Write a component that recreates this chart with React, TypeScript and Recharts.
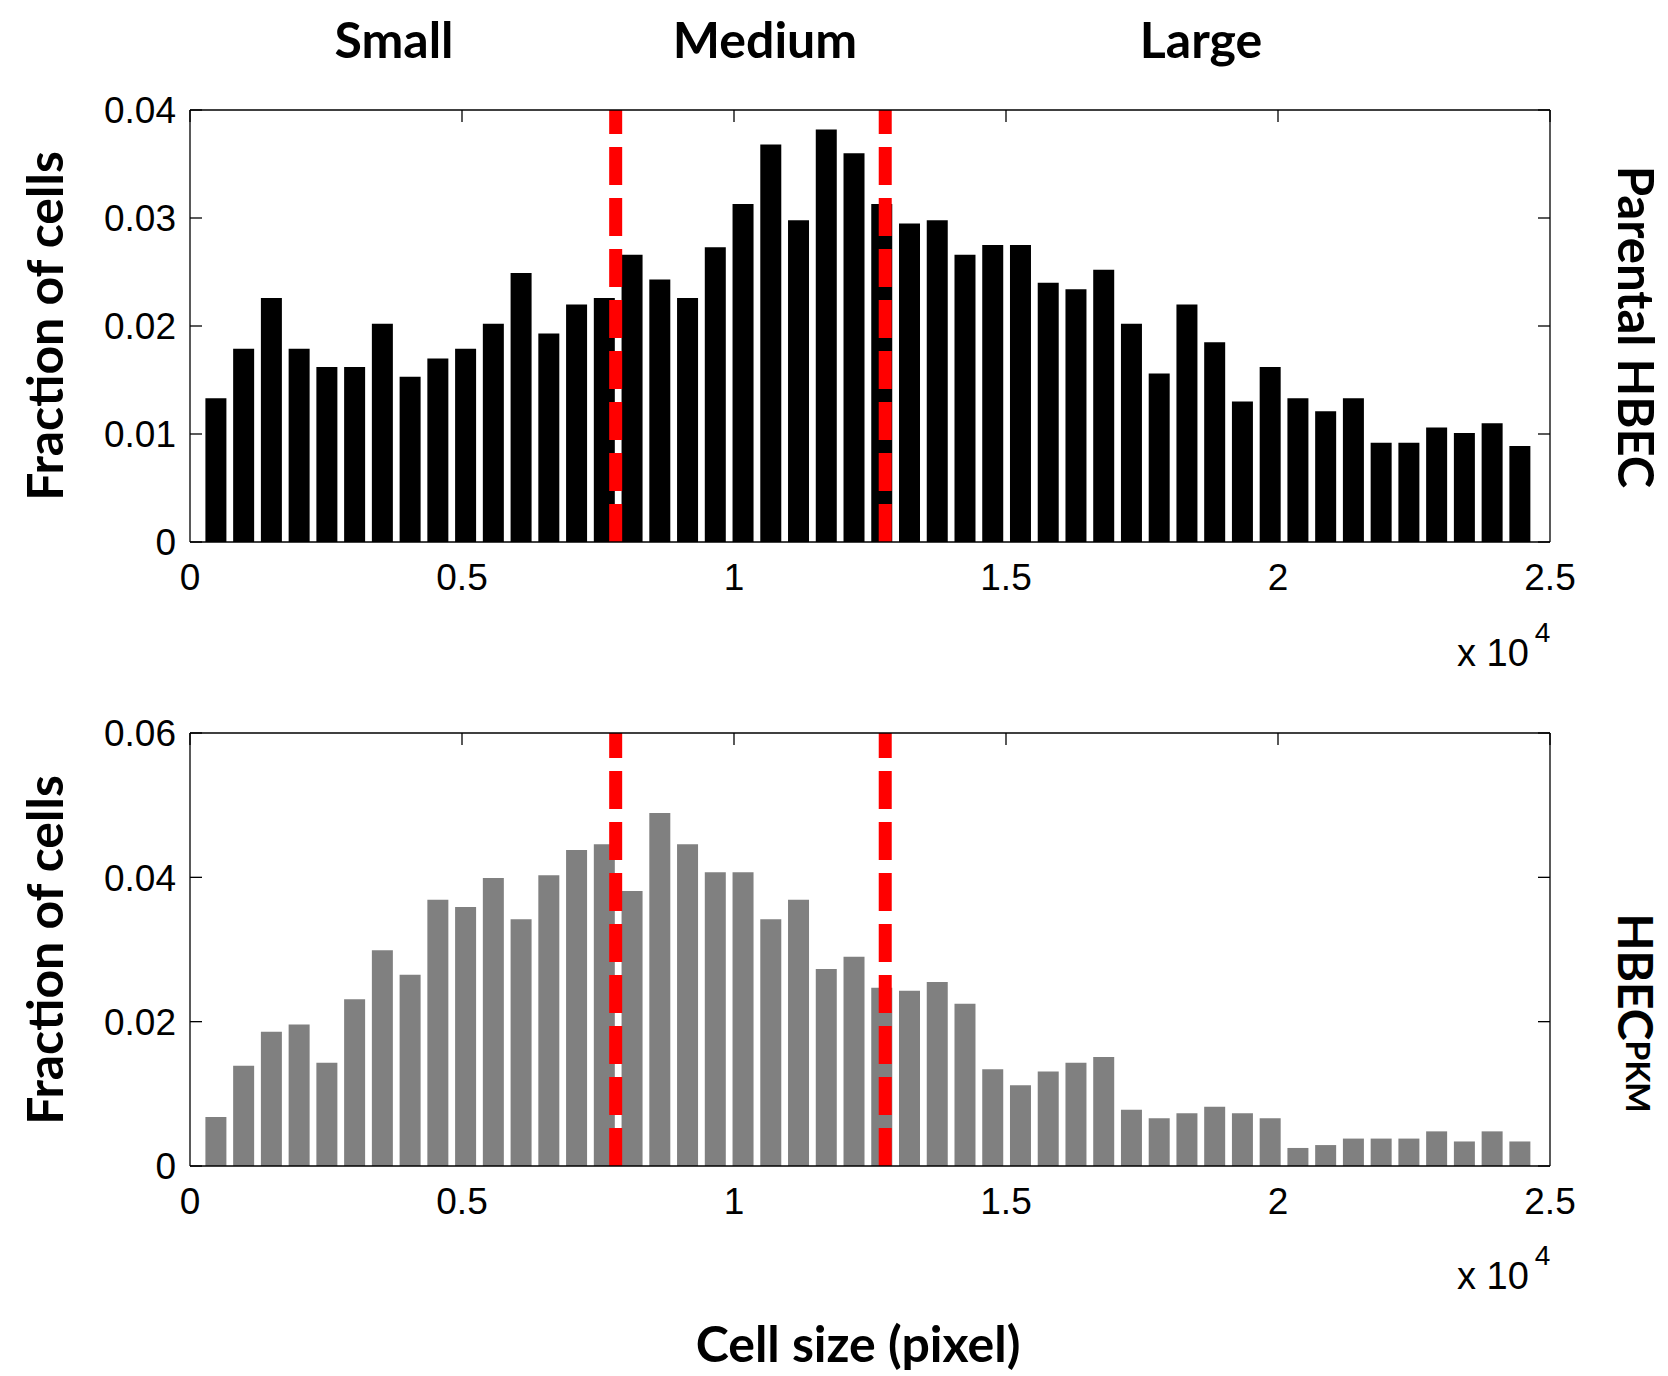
import React from 'react'
import { ComposedChart, Bar, XAxis, YAxis, ReferenceLine } from 'recharts'

// histogram bin centres (pixels)
const binCenters = [
  483, 993, 1503, 2013, 2523, 3033, 3543, 4053, 4563, 5073, 5583, 6093,
  6603, 7113, 7623, 8133, 8643, 9153, 9663, 10173, 10683, 11193, 11703, 12213,
  12723, 13233, 13743, 14253, 14763, 15273, 15783, 16293, 16803, 17313, 17823, 18333,
  18843, 19353, 19863, 20373, 20883, 21393, 21903, 22413, 22923, 23433, 23943, 24453
]

// Parental HBEC
const parentalFraction = [
  0.0133, 0.0179, 0.0226, 0.0179, 0.0162, 0.0162, 0.0202, 0.0153, 0.0170, 0.0179, 0.0202, 0.0249,
  0.0193, 0.0220, 0.0226, 0.0266, 0.0243, 0.0226, 0.0273, 0.0313, 0.0368, 0.0298, 0.0382, 0.0360,
  0.0313, 0.0295, 0.0298, 0.0266, 0.0275, 0.0275, 0.0240, 0.0234, 0.0252, 0.0202, 0.0156, 0.0220,
  0.0185, 0.0130, 0.0162, 0.0133, 0.0121, 0.0133, 0.0092, 0.0092, 0.0106, 0.0101, 0.0110, 0.0089
]

// HBEC PKM
const pkmFraction = [
  0.0068, 0.0139, 0.0186, 0.0196, 0.0143, 0.0231, 0.0299, 0.0265, 0.0369, 0.0359, 0.0399, 0.0342,
  0.0403, 0.0438, 0.0446, 0.0381, 0.0489, 0.0446, 0.0407, 0.0407, 0.0342, 0.0369, 0.0273, 0.0290,
  0.0247, 0.0243, 0.0255, 0.0225, 0.0134, 0.0112, 0.0131, 0.0143, 0.0151, 0.0078, 0.0066, 0.0073,
  0.0082, 0.0073, 0.0066, 0.0025, 0.0029, 0.0038, 0.0038, 0.0038, 0.0048, 0.0034, 0.0048, 0.0034
]

const sizeCutoffs = [7825, 12780]
const xTicks = [0, 5000, 10000, 15000, 20000, 25000]
const parentalYTicks = [0, 0.01, 0.02, 0.03, 0.04]
const pkmYTicks = [0, 0.02, 0.04, 0.06]

const TICK_FONT = '"Liberation Sans", Arial, sans-serif'
const TITLE_FONT = 'Lato, "Open Sans", sans-serif'

function XTick(props: any) {
  const { x, y, payload } = props
  return (
    <text x={x} y={y} textAnchor="middle" fontFamily={TICK_FONT} fontSize={37} fill="#000">
      {payload.value / 10000}
    </text>
  )
}

function YTick(props: any) {
  const { x, y, payload } = props
  const axisX = x + 14
  return (
    <g>
      <line x1={axisX} x2={axisX + 12} y1={y} y2={y} stroke="#000" strokeWidth={1.3} />
      <text x={x} y={y} dy="0.36em" textAnchor="end" fontFamily={TICK_FONT} fontSize={37} fill="#000">
        {payload.value}
      </text>
    </g>
  )
}

// tick lines only, no labels
const NoLabel = () => <g />

interface PanelProps {
  values: number[]
  yMax: number
  yTicks: number[]
  fill: string
  top: number
  marginTop: number
  marginBottom: number
}

function HistPanel({ values, yMax, yTicks, fill, top, marginTop, marginBottom }: PanelProps) {
  const data = binCenters.map((x, i) => ({ x, v: values[i] }))
  const axisLine = { stroke: '#000', strokeWidth: 1.3 }
  const boxTick = { stroke: '#000', strokeWidth: 1.3 }

  return (
    <div style={{ position: 'absolute', left: 0, top }}>
      <ComposedChart
        width={1668}
        height={620}
        data={data}
        margin={{ top: marginTop, right: 118, bottom: marginBottom, left: 90 }}
      >
        <XAxis
          xAxisId="main"
          type="number"
          dataKey="x"
          domain={[0, 25000]}
          ticks={xTicks}
          interval={0}
          allowDataOverflow
          height={60}
          tickSize={0}
          tickMargin={48}
          axisLine={axisLine}
          tickLine={false}
          tick={(p: any) => <XTick {...p} />}
        />
        {/* box top edge with inward ticks */}
        <XAxis
          xAxisId="top"
          orientation="top"
          type="number"
          dataKey="x"
          domain={[0, 25000]}
          ticks={xTicks}
          interval={0}
          allowDataOverflow
          height={1}
          mirror
          tick={NoLabel}
          tickSize={12}
          axisLine={axisLine}
          tickLine={boxTick}
        />
        <YAxis
          yAxisId="main"
          type="number"
          domain={[0, yMax]}
          ticks={yTicks}
          interval={0}
          allowDataOverflow
          width={100}
          tickSize={0}
          tickMargin={14}
          axisLine={axisLine}
          tickLine={false}
          tick={(p: any) => <YTick {...p} />}
        />
        {/* box right edge with inward ticks */}
        <YAxis
          yAxisId="right"
          orientation="right"
          type="number"
          domain={[0, yMax]}
          ticks={yTicks}
          interval={0}
          allowDataOverflow
          width={1}
          mirror
          tick={NoLabel}
          tickSize={12}
          axisLine={axisLine}
          tickLine={boxTick}
        />
        <Bar
          xAxisId="main"
          yAxisId="main"
          dataKey="v"
          fill={fill}
          barSize={21}
          isAnimationActive={false}
        />
        {sizeCutoffs.map((c) => (
          <ReferenceLine
            key={c}
            xAxisId="main"
            yAxisId="main"
            x={c}
            stroke="#ff0000"
            strokeWidth={13}
            strokeDasharray="38 13"
          />
        ))}
      </ComposedChart>
    </div>
  )
}

export default function App() {
  return (
    <div style={{ position: 'absolute', left: 0, top: 0, width: 1668, height: 1376, background: '#fff' }}>
      <HistPanel values={parentalFraction} yMax={0.04} yTicks={parentalYTicks} fill="#000000" top={0} marginTop={110} marginBottom={18} />
      <HistPanel values={pkmFraction} yMax={0.06} yTicks={pkmYTicks} fill="#808080" top={620} marginTop={113} marginBottom={14} />

      <svg width={1668} height={1376} style={{ position: 'absolute', left: 0, top: 0, pointerEvents: 'none' }}>
        <g fontFamily={TITLE_FONT} fontWeight={700} fontSize={50} fill="#000" textAnchor="middle">
          <text x={394} y={58}>Small</text>
          <text x={765} y={58}>Medium</text>
          <text x={1201} y={58}>Large</text>

          <text x={63} y={326} transform="rotate(-90 63 326)">Fraction of cells</text>
          <text x={63} y={950} transform="rotate(-90 63 950)">Fraction of cells</text>

          <text x={1618} y={327} fontSize={49} transform="rotate(90 1618 327)">Parental HBEC</text>
          <text x={1618} y={1013} fontSize={48} transform="rotate(90 1618 1013)">
            HBEC<tspan fontSize={32} dy={-8}>PKM</tspan>
          </text>

          <text x={858} y={1362}>Cell size (pixel)</text>
        </g>

        <g fontFamily={TICK_FONT} fontSize={38} fill="#000">
          <text x={1457} y={666}>
            x 10<tspan fontSize={28} dx={6} dy={-24}>4</tspan>
          </text>
          <text x={1457} y={1289}>
            x 10<tspan fontSize={28} dx={6} dy={-24}>4</tspan>
          </text>
        </g>
      </svg>
    </div>
  )
}
